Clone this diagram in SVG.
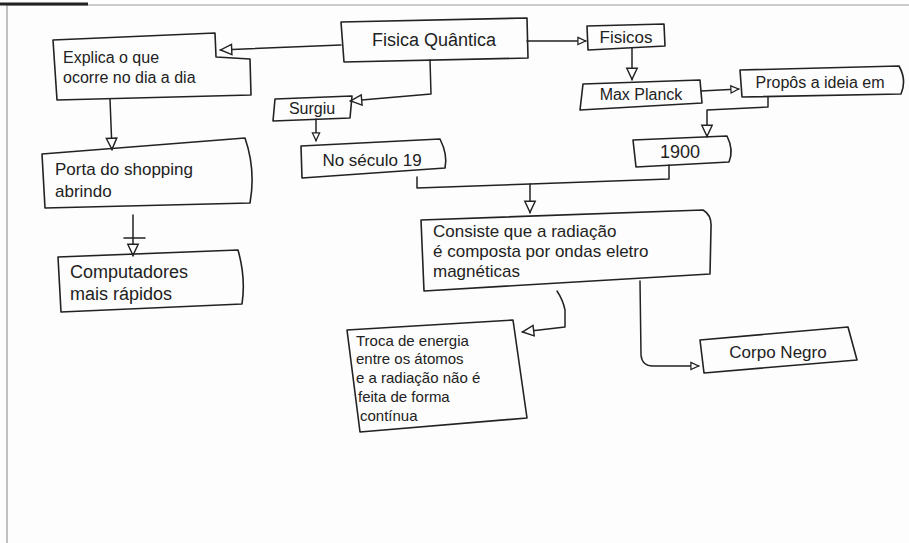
<svg xmlns="http://www.w3.org/2000/svg" width="909" height="543" viewBox="0 0 909 543">
<style>
.box{fill:none;stroke:#222;stroke-width:1.6;stroke-linejoin:round}
.con{fill:none;stroke:#222;stroke-width:1.5;stroke-linejoin:round;stroke-linecap:round}
text{font-family:"Liberation Sans","DejaVu Sans",sans-serif;fill:#222}
.c{text-anchor:middle}
</style>
<defs>
<marker id="tri" viewBox="0 0 10 10" refX="10" refY="5" markerWidth="13" markerHeight="17" markerUnits="userSpaceOnUse" orient="auto">
<path d="M1,1 L9.5,5 L1,9 Z" fill="#fff" stroke="#222" stroke-width="1.1"/>
</marker>
<marker id="triS" viewBox="0 0 10 10" refX="10" refY="5" markerWidth="9" markerHeight="11" markerUnits="userSpaceOnUse" orient="auto">
<path d="M1,1 L9.5,5 L1,9 Z" fill="#fff" stroke="#222" stroke-width="1.4"/>
</marker>
</defs>
<rect x="0" y="0" width="909" height="543" fill="#fdfdfd"/>
<g id="page-border">
<line x1="7" y1="5" x2="909" y2="5" stroke="#999" stroke-width="1.2"/>
<line x1="7" y1="5" x2="7" y2="543" stroke="#999" stroke-width="1.2"/>
<line x1="0" y1="4" x2="88" y2="4" stroke="#222" stroke-width="3"/>
</g>
<g id="connectors">
<path class="con" d="M341,45 L220,50" marker-end="url(#tri)"/>
<path class="con" d="M527,41 L586,41" marker-end="url(#triS)"/>
<path class="con" d="M632,48 L632,80" marker-end="url(#tri)"/>
<path class="con" d="M701,91 L739,89" marker-end="url(#triS)"/>
<path class="con" d="M768,97 L768,107 L707,110 L707,137" marker-end="url(#tri)"/>
<path class="con" d="M417,177 L417,188 L530,184 L669,179 L669,165"/>
<path class="con" d="M530,184 L530,213" marker-end="url(#tri)"/>
<path class="con" d="M557,291 Q563,300 565,310 L565,327 L522,332" marker-end="url(#tri)"/>
<path class="con" d="M640,281 L641,355 Q642,366 653,366 L699,366" marker-end="url(#triS)"/>
<path class="con" d="M430,60 L431,94 L350,101" marker-end="url(#tri)"/>
<path class="con" d="M316,119 L316,141" marker-end="url(#triS)"/>
<path class="con" d="M110,99 L112,150" marker-end="url(#tri)"/>
<path class="con" d="M133,215 L133,256" marker-end="url(#tri)"/>
<path class="con" d="M124,238 L145,238"/>
</g>
<g id="fisica-quantica">
<path class="box" d="M341,22 L527,18 L528,58 L344,62 Z"/>
<text class="c" x="434" y="46" font-size="18">Fisica Quântica</text>
</g>
<g id="fisicos">
<path class="box" d="M587,26 L664,24 L665,46 L588,50 Z"/>
<text class="c" x="626" y="43" font-size="17">Fisicos</text>
</g>
<g id="max-planck">
<path class="box" d="M583,84 L700,80 L702,103 L580,110 Z"/>
<text class="c" x="641" y="100" font-size="16">Max Planck</text>
</g>
<g id="propos">
<path class="box" d="M740,70 L899,66 Q907,80 901,94 L742,97 Z"/>
<text class="c" x="820" y="88" font-size="16">Propôs a ideia em</text>
</g>
<g id="ano-1900">
<path class="box" d="M633,140 L727,136 Q734,150 729,162 L636,167 Z"/>
<text class="c" x="680" y="158" font-size="18">1900</text>
</g>
<g id="surgiu">
<path class="box" d="M275,99 L352,96 L350,118 L273,121 Z"/>
<text class="c" x="312" y="114" font-size="16">Surgiu</text>
</g>
<g id="seculo-19">
<path class="box" d="M301,146 L440,139 Q448,155 445,168 L302,178 Z"/>
<text class="c" x="372" y="166" font-size="17">No século 19</text>
</g>
<g id="explica">
<path class="box" d="M53,40 L215,33 L216,57 L250,59 L251,95 L57,100 Z"/>
<text x="63" y="63" font-size="16">Explica o que</text>
<text x="63" y="83" font-size="16">ocorre no dia a dia</text>
</g>
<g id="porta-shopping">
<path class="box" d="M42,154 L245,138 Q256,170 250,203 L45,208 Z"/>
<text x="55" y="175" font-size="17">Porta do shopping</text>
<text x="55" y="197" font-size="17">abrindo</text>
</g>
<g id="computadores">
<path class="box" d="M58,257 L238,250 Q246,278 242,304 L61,312 Z"/>
<text x="70" y="278" font-size="18">Computadores</text>
<text x="70" y="300" font-size="18">mais rápidos</text>
</g>
<g id="consiste">
<path class="box" d="M421,220 L703,210 Q712,215 711,228 L710,274 L424,291 Z"/>
<text x="433" y="237" font-size="17">Consiste que a radiação</text>
<text x="433" y="257" font-size="17">é composta por ondas eletro</text>
<text x="433" y="277" font-size="17">magnéticas</text>
</g>
<g id="troca-energia">
<path class="box" d="M347,330 L513,320 L527,418 L360,432 Z"/>
<text x="356" y="346" font-size="15">Troca de energia</text>
<text x="356" y="364" font-size="15">entre os átomos</text>
<text x="356" y="383" font-size="15">e a radiação não é</text>
<text x="358" y="402" font-size="15">feita de forma</text>
<text x="360" y="421" font-size="15">contínua</text>
</g>
<g id="corpo-negro">
<path class="box" d="M700,340 L848,327 L857,360 L704,373 Z"/>
<text class="c" x="778" y="358" font-size="17">Corpo Negro</text>
</g>
</svg>
